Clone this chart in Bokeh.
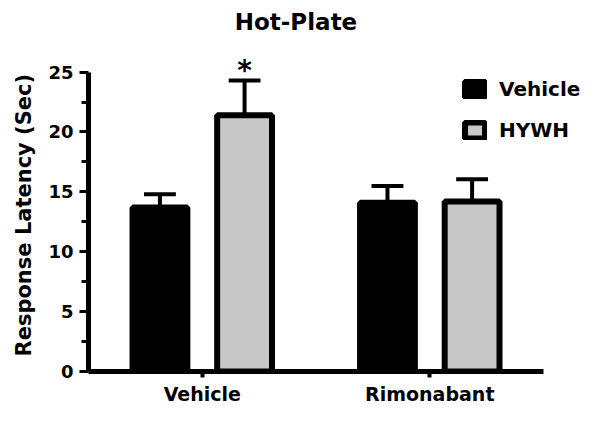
from bokeh.plotting import figure
from bokeh.models import (Range1d, ColumnDataSource, Legend, LegendItem, FixedTicker, Label, Title)
from bokeh.transform import dodge
from bokeh.core.properties import value
from bokeh.embed import file_html
from bokeh.resources import INLINE

# ---- data ----
categories = ["Vehicle", "Rimonabant"]
vehicle_means = [13.7, 14.1]
vehicle_sem = [1.1, 1.4]
hywh_means = [21.4, 14.2]
hywh_sem = [2.9, 1.85]
significance_hywh = ["*", ""]
y_ticks = [0, 5, 10, 15, 20, 25]
y_minor_ticks = [2.5, 7.5, 12.5, 17.5, 22.5]
title_text = "Hot-Plate"
y_label = "Response Latency (Sec)"
series_names = ["Vehicle", "HYWH"]

FONT = "DejaVu Sans"

positions = [i + 0.5 for i in range(len(categories))]

src = ColumnDataSource(dict(
    x=positions,
    veh=vehicle_means,
    veh_up=[m + e for m, e in zip(vehicle_means, vehicle_sem)],
    hy=hywh_means,
    hy_up=[m + e for m, e in zip(hywh_means, hywh_sem)],
    star=significance_hywh,
))

# layout: frame spans from the top of the figure down to the x axis
Y_TOP = 30.98
p = figure(width=584, height=407,
           x_range=Range1d(0, 2.18),
           y_range=Range1d(0, Y_TOP),
           output_backend="svg", toolbar_location=None,
           min_border_left=87, min_border_right=0,
           min_border_top=0, min_border_bottom=34)

p.background_fill_color = "white"
p.border_fill_color = "white"
p.outline_line_color = None
p.grid.visible = False

off = 0.186
bw = 0.241
cap = 0.07
LW = 6

# error bars (upper only)
for o, top, up in [(-off, "veh", "veh_up"), (off, "hy", "hy_up")]:
    p.segment(x0=dodge("x", o), y0=top, x1=dodge("x", o), y1=up,
              source=src, line_color="black", line_width=4)
    p.segment(x0=dodge("x", o - cap), y0=up, x1=dodge("x", o + cap), y1=up,
              source=src, line_color="black", line_width=4)

r_veh = p.vbar(x=dodge("x", -off), top="veh", width=bw,
               source=src, fill_color="black", line_color="black", line_width=LW)
r_hy = p.vbar(x=dodge("x", off), top="hy", width=bw,
              source=src, fill_color="#c8c8c8", line_color="black", line_width=LW)

p.text(x=dodge("x", off), y="hy_up", text="star", source=src, y_offset=-10,
       text_font=value(FONT), text_font_style="bold", text_font_size="28px",
       text_align="center", text_baseline="alphabetic", text_color="black")

# chart title (label at the top of the canvas)
title = Label(x=0.912, y=29.15, x_units="data", y_units="data", text=title_text,
              text_font=FONT, text_font_size="23px", text_font_style="bold",
              text_color="black", text_align="center", text_baseline="middle")
p.add_layout(title)

# y axis title as a left-side title
ytitle = Title(text=y_label, align="left", offset=15, standoff=19,
               vertical_align="bottom",
               text_font=FONT, text_font_size="21px", text_font_style="bold",
               text_color="black")
p.add_layout(ytitle, "left")

# y axis
ya = p.yaxis[0]
ya.ticker = FixedTicker(ticks=y_ticks, minor_ticks=y_minor_ticks)
ya.bounds = (0, 25)
ya.axis_line_width = 5
ya.axis_line_color = "black"
ya.major_tick_line_width = 3
ya.major_tick_out = 9
ya.major_tick_in = 0
ya.minor_tick_line_width = 3
ya.minor_tick_out = 7
ya.minor_tick_in = 0
ya.major_label_standoff = 6
ya.major_label_text_font = FONT
ya.major_label_text_font_size = "18px"
ya.major_label_text_font_style = "bold"
ya.major_label_text_color = "black"

# x axis
xa = p.xaxis[0]
xa.ticker = FixedTicker(ticks=positions)
xa.major_label_overrides = {pos: cat for pos, cat in zip(positions, categories)}
xa.bounds = (0, len(categories))
xa.axis_line_width = 5
xa.axis_line_color = "black"
xa.major_tick_line_width = 4
xa.major_tick_out = 6
xa.major_tick_in = 0
xa.minor_tick_line_color = None
xa.major_label_standoff = 5
xa.major_label_text_font = FONT
xa.major_label_text_font_size = "19px"
xa.major_label_text_font_style = "bold"
xa.major_label_text_color = "black"

legend = Legend(items=[LegendItem(label=series_names[0], renderers=[r_veh]),
                       LegendItem(label=series_names[1], renderers=[r_hy])],
                location=(374, 229))
legend.glyph_width = 25
legend.glyph_height = 20
legend.label_height = 20
legend.spacing = 17
legend.padding = 0
legend.margin = 0
legend.label_standoff = 12
legend.label_text_font = FONT
legend.label_text_font_size = "20px"
legend.label_text_font_style = "bold"
legend.label_text_color = "black"
legend.border_line_alpha = 0
legend.background_fill_alpha = 0
p.add_layout(legend, "center")

open("out.html", "w").write(file_html(p, INLINE))
